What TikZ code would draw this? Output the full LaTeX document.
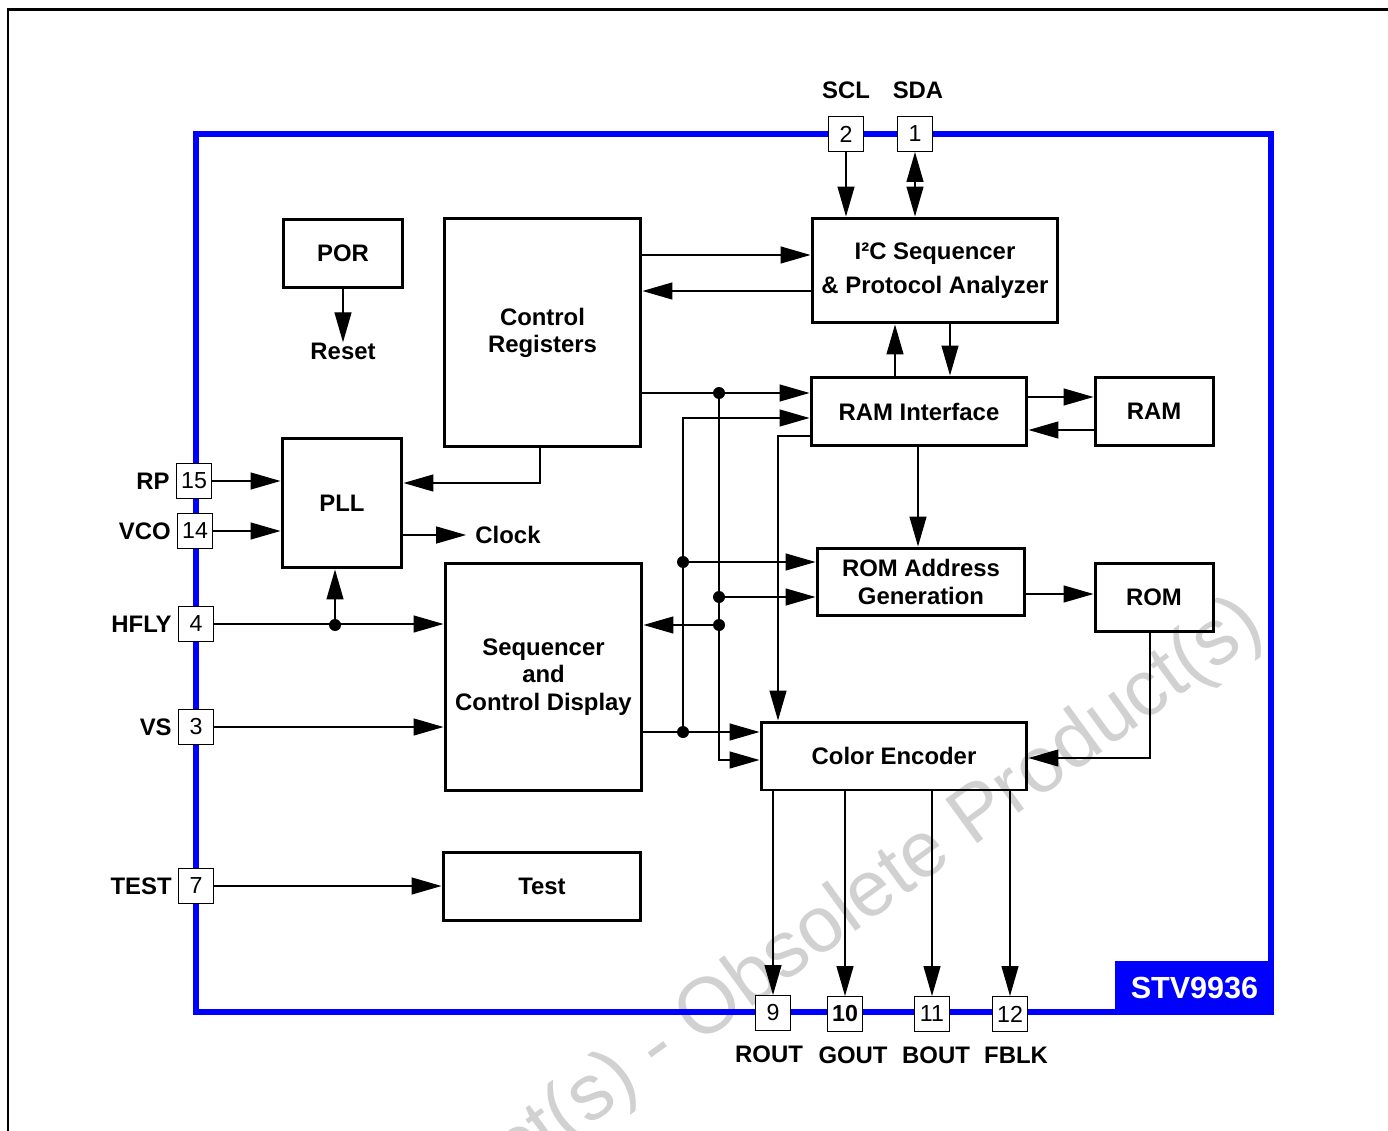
\documentclass[tikz,border=0pt]{standalone}
\usepackage{fontspec}
\setmainfont{Liberation Sans}
\usetikzlibrary{arrows.meta,positioning}
\newcommand{\blkfont}{\fontsize{13.6}{15.5}\selectfont\bfseries}
\newcommand{\pinfont}{\fontsize{13.2}{14}\selectfont}

\begin{document}
\begin{tikzpicture}[x=0.02cm, y=-0.02cm,
    blk/.style={draw, line width=0.06cm, align=center, font=\blkfont, inner sep=0},
    pin/.style={draw, fill=white, line width=0.02cm, minimum size=0.7cm, inner sep=0, font=\pinfont},
    lbl/.style={font=\blkfont, inner sep=0},
    sig/.style={line width=0.026cm, -{Triangle[length=0.6cm, width=0.34cm]}},
    dot/.style={circle, fill, inner sep=0, minimum size=0.24cm}]
    \useasboundingbox (0,0) rectangle (1388,1131);
    \clip (0,0) rectangle (1388,1131);

    % Watermark
    \node[font=\fontsize{45}{45}\selectfont, text=black!18, rotate=36] (wm) at (658,1050) {Obsolete Product(s) - Obsolete Product(s)};

    % Frames
    \draw[line width=0.06cm] (8,1140) -- (8,10) -- (1400,10);
    \draw[blue, line width=0.12cm] (196,134) rectangle (1271,1012);
    \node[fill=blue, text=white, font=\fontsize{17.4}{20}\selectfont\bfseries, minimum width=3.18cm, minimum height=1.08cm, inner sep=0] (chip) at (1194.5,988) {STV9936};

    % Blocks
    \node[blk, minimum width=2.4cm, minimum height=1.38cm] (por) at (343,253.5) {POR};
    \node[lbl] (rst) at (343,351) {Reset};
    \node[blk, minimum width=3.94cm, minimum height=4.58cm] (cr) at (542.5,332.5) {Control\\Registers};
    \node[blk, minimum width=4.92cm, minimum height=2.1cm] (i2c) at (935,270.5) {I²C Sequencer\\[4pt]\& Protocol Analyzer};
    \node[blk, minimum width=4.32cm, minimum height=1.38cm] (rami) at (919,411.5) {RAM Interface};
    \node[blk, minimum width=2.36cm, minimum height=1.38cm] (ram) at (1154,411.5) {RAM};
    \node[blk, minimum width=4.16cm, minimum height=1.36cm] (roma) at (921,582) {ROM Address\\Generation};
    \node[blk, minimum width=2.36cm, minimum height=1.38cm] (rom) at (1154,597.5) {ROM};
    \node[blk, minimum width=5.32cm, minimum height=1.36cm] (enc) at (894,756) {Color Encoder};
    \node[blk, minimum width=2.4cm, minimum height=2.6cm] (pll) at (342,503) {PLL};
    \node[lbl] (clk) at (508,535) {Clock};
    \node[blk, minimum width=3.94cm, minimum height=4.56cm] (seq) at (543.5,677) {Sequencer\\and\\Control Display};
    \node[blk, minimum width=3.96cm, minimum height=1.36cm] (tst) at (542,886) {Test};

    % Pins
    \node[pin] (p2) at (846,134) {2};
    \node[pin] (p1) at (915,134) {1};
    \node[pin] (p15) at (194,481) {15};
    \node[pin] (p14) at (195,531) {14};
    \node[pin] (p4) at (196,624) {4};
    \node[pin] (p3) at (196,727) {3};
    \node[pin] (p7) at (196,886) {7};
    \node[pin] (p9) at (773,1013) {9};
    \node[pin, font=\pinfont\bfseries] (p10) at (845,1014) {10};
    \node[pin] (p11) at (932,1014) {11};
    \node[pin] (p12) at (1010,1014) {12};

    % Pin names
    \node[lbl, above=0.33cm of p2] (scl) {SCL};
    \node[lbl, above=0.33cm of p1, xshift=0.06cm] (sda) {SDA};
    \node[lbl, left=0.12cm of p15] (rp) {RP};
    \node[lbl, left=0.12cm of p14] (vco) {VCO};
    \node[lbl, left=0.12cm of p4] (hfly) {HFLY};
    \node[lbl, left=0.12cm of p3] (vs) {VS};
    \node[lbl, left=0.12cm of p7] (test) {TEST};
    \node[lbl, below=0.29cm of p9, xshift=-0.08cm] (rout) {ROUT};
    \node[lbl, below=0.29cm of p10, xshift=0.16cm] (gout) {GOUT};
    \node[lbl, below=0.29cm of p11, xshift=0.08cm] (bout) {BOUT};
    \node[lbl, below=0.29cm of p12, xshift=0.12cm] (fblk) {FBLK};

    % Junctions
    \node[dot] (j1) at (719,393) {};
    \node[dot] (j2) at (719,597) {};
    \node[dot] (j3) at (719,625) {};
    \node[dot] (k1) at (683,732) {};
    \node[dot] (k2) at (683,562) {};
    \node[dot] (h1) at (335,625) {};

    % I2C bus
    \draw[sig] (p2.south) -- (p2.south |- i2c.north);
    \draw[sig, {Triangle[length=0.6cm, width=0.34cm]}-{Triangle[length=0.6cm, width=0.34cm]}] (p1.south) -- (p1.south |- i2c.north);
    \draw[sig] (cr.east |- 0,255) -- (i2c.west |- 0,255);
    \draw[sig] (i2c.west |- 0,291) -- (cr.east |- 0,291);
    \draw[sig] (rami.north -| 895,0) -- (i2c.south -| 895,0);
    \draw[sig] (i2c.south -| 950,0) -- (rami.north -| 950,0);

    % Memories
    \draw[sig] (rami.east |- 0,397) -- (ram.west |- 0,397);
    \draw[sig] (ram.west |- 0,430) -- (rami.east |- 0,430);
    \draw[sig] (rami.south -| 918,0) -- (roma.north -| 918,0);
    \draw[sig] (roma.east |- 0,594) -- (rom.west |- 0,594);
    \draw[sig] (rom.south -| 1150,0) |- (enc.east |- 0,758);

    % Register bus
    \draw[sig] (cr.east |- j1) -- (rami.west |- j1);
    \draw[sig] (j1) |- (enc.west |- 0,760);
    \draw[sig] (j2) -- (roma.west |- j2);
    \draw[sig] (j3) -- (seq.east |- j3);

    % Sequencer bus
    \draw[sig] (seq.east |- k1) -- (enc.west |- k1);
    \draw[sig] (k1) |- (rami.west |- 0,418);
    \draw[sig] (k2) -- (roma.west |- k2);
    \draw[sig] (rami.west |- 0,436) -| (enc.north -| 778,0);

    % Outputs
    \foreach \p in {p9,p10,p11,p12}
        \draw[sig] (enc.south -| \p) -- (\p.north);

    % PLL and inputs
    \draw[sig] (p15.east) -- (pll.west |- p15);
    \draw[sig] (p14.east) -- (pll.west |- p14);
    \draw[sig] (cr.south -| 540,0) |- (pll.east |- 0,483);
    \draw[sig, shorten >=0.18cm] (pll.east |- clk) -- (clk.west);
    \draw[sig] (p4.east) -- (seq.west |- p4);
    \draw[sig] (h1) -- (pll.south -| h1);
    \draw[sig] (p3.east) -- (seq.west |- p3);
    \draw[sig] (p7.east) -- (tst.west |- p7);
    \draw[sig] (por.south) -- (rst.north);

\end{tikzpicture}
\end{document}
